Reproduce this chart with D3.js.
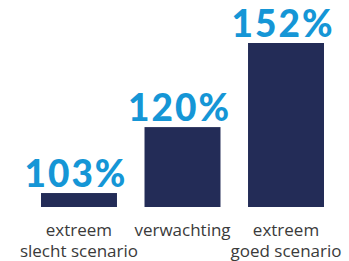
<!DOCTYPE html>
<html>
<head>
<meta charset="utf-8">
<script src="https://cdn.jsdelivr.net/npm/d3@7"></script>
<style>
  body { margin: 0; background: #fff; }
  svg { display: block; }
</style>
</head>
<body>
<div class="chart"></div>
<script>
var categories = [["extreem", "slecht scenario"], ["verwachting"], ["extreem", "goed scenario"]];
var values = [103, 120, 152];
var valueLabels = ["103%", "120%", "152%"];

var width = 349, height = 261;

var svg = d3.select("div.chart")
    .append("svg")
    .attr("width", width)
    .attr("height", height);

var x = d3.scaleBand()
    .domain(d3.range(values.length))
    .range([41, 324])
    .paddingInner(0.266)
    .paddingOuter(0);

// bar heights in the picture aren't linear to the labels, 1/x fits them
var y = d3.scalePow()
    .exponent(-1)
    .domain([100, 152])
    .range([207, 43]);

svg.append("g")
    .selectAll("rect")
    .data(values)
    .enter()
    .append("rect")
    .attr("x", function (d, i) { return x(i); })
    .attr("y", function (d) { return y(d); })
    .attr("width", x.bandwidth())
    .attr("height", function (d) { return y.range()[0] - y(d); })
    .style("fill", "#232c57");

svg.append("g")
    .selectAll("text")
    .data(values)
    .enter()
    .append("text")
    .attr("x", function (d, i) { return x(i) + x.bandwidth() / 2 - 3; })
    .attr("y", function (d) { return y(d) - 6; })
    .attr("text-anchor", "middle")
    .style("font-family", "Lato, sans-serif")
    .style("font-weight", "900")
    .style("font-size", "37px")
    .style("letter-spacing", "2px")
    .style("fill", "#1596d6")
    .text(function (d, i) { return valueLabels[i]; });

var cat = svg.append("g")
    .selectAll("text")
    .data(categories)
    .enter()
    .append("text")
    .attr("x", function (d, i) { return x(i) + x.bandwidth() / 2; })
    .attr("y", 236)
    .attr("text-anchor", "middle")
    .style("font-family", "'Open Sans', sans-serif")
    .style("font-weight", "400")
    .style("font-size", "17px")
    .style("fill", "#3a3a3a");

cat.selectAll("tspan")
    .data(function (d) { return d; })
    .enter()
    .append("tspan")
    .attr("x", function () { return d3.select(this.parentNode).attr("x"); })
    .attr("dy", function (d, i) { return i == 0 ? 0 : 21; })
    .text(function (d) { return d; });
</script>
</body>
</html>
